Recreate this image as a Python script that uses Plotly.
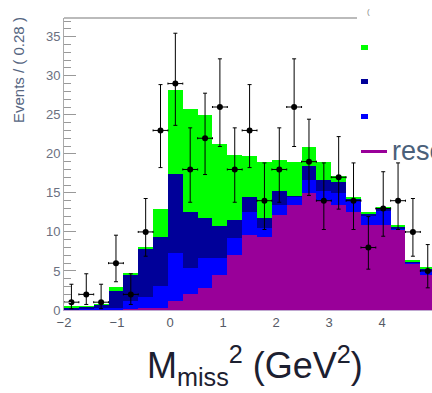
import plotly.graph_objects as go

# ---- data ----
bin_centers = [-1.86, -1.58, -1.30, -1.02, -0.74, -0.46, -0.18, 0.10, 0.38, 0.66,
               0.94, 1.22, 1.50, 1.78, 2.06, 2.34, 2.62, 2.90, 3.18, 3.46,
               3.74, 4.02, 4.30, 4.58, 4.86]
bin_width = 0.28

# stacked components (bottom -> top)
resolution = [0.05, 0.05, 0.08, 0.10, 0.15, 0.20, 0.30, 1.2, 2.0, 2.8,
              4.5, 7.05, 9.6, 9.4, 12.2, 13.4, 15.0, 13.9, 13.5, 12.6,
              10.9, 10.9, 10.2, 6.0, 4.5]
comp_blue = [0.05, 0.07, 0.12, 0.20, 0.95, 1.5, 2.8, 6.1, 3.4, 3.8,
             2.1, 2.15, 3.0, 1.1, 1.3, 1.1, 1.7, 1.3, 1.5, 1.3,
             1.1, 1.8, 0.3, 0.1, 0.6]
comp_darkblue = [0.25, 0.28, 0.5, 2.1, 3.4, 6.2, 6.2, 10.1, 7.2, 5.2,
                 4.1, 2.3, 1.9, 1.3, 1.7, 0.1, 1.7, 1.5, 1.4, 0.4,
                 0.3, 0.2, 0.2, 0.1, 0.2]
comp_green = [0.05, 0.05, 0.05, 0.6, 0.2, 0.2, 3.7, 10.8, 13.1, 13.2,
              10.5, 8.4, 5.2, 7.2, 4.0, 4.4, 2.5, 2.3, 0.8, 0.2,
              0.3, 0.3, 0.2, 0.2, 0.2]

events = [1, 2, 1, 6, 2, 10, 23, 29, 18, 22,
          26, 18, 23, 14, 18, 26, 19, 14, 17, 14,
          8, 13, 14, 10, 5]
err_up = [2.30, 2.64, 2.30, 3.58, 2.64, 4.28, 5.87, 6.45, 5.33, 5.77,
          6.17, 5.33, 5.87, 4.84, 5.33, 6.17, 5.44, 4.84, 5.21, 4.84,
          3.96, 4.71, 4.84, 4.28, 3.38]
err_down = [0.83, 1.29, 0.83, 2.38, 1.29, 3.11, 4.76, 5.35, 4.20, 4.65,
            5.06, 4.20, 4.76, 3.69, 4.20, 5.06, 4.32, 3.69, 4.08, 3.69,
            2.77, 3.55, 3.69, 3.11, 2.16]

x_ticks = [-2, -1, 0, 1, 2, 3, 4]
y_ticks = [0, 5, 10, 15, 20, 25, 30, 35]

COL_PURPLE = "#990099"
COL_BLUE = "#0000ff"
COL_DKBLUE = "#000099"
COL_GREEN = "#00ff00"

fig = go.Figure()
for name, vals, col in [("resolution", resolution, COL_PURPLE),
                        ("blue", comp_blue, COL_BLUE),
                        ("darkblue", comp_darkblue, COL_DKBLUE),
                        ("green", comp_green, COL_GREEN)]:
    fig.add_trace(go.Bar(x=bin_centers, y=vals, width=bin_width, name=name,
                         marker=dict(color=col, line=dict(width=0)),
                         showlegend=False))

fig.add_trace(go.Scatter(
    x=bin_centers, y=events, mode="markers",
    marker=dict(color="black", size=6, symbol="circle"),
    error_y=dict(type="data", symmetric=False, array=err_up, arrayminus=err_down,
                 color="black", thickness=1, width=2),
    error_x=dict(type="constant", value=bin_width / 2, color="black",
                 thickness=1, width=1),
    showlegend=False, cliponaxis=False))

W, H = 432, 393
L, R, T, B = 64, 0, 18, 83
pw, ph = W - L - R, H - T - B


def px(xp):
    return (xp - L) / pw


def py(yp):
    return (H - B - yp) / ph


fig.update_layout(
    width=W, height=H,
    margin=dict(l=L, r=R, t=T, b=B, pad=0),
    barmode="stack", bargap=0,
    plot_bgcolor="white", paper_bgcolor="white",
    font=dict(family="Liberation Sans, Arial, sans-serif"),
    xaxis=dict(range=[-2, 4.94], tickvals=x_ticks, ticks="", showgrid=False,
               zeroline=False, showline=True, linecolor="#c0a8d0", linewidth=1,
               tickfont=dict(size=13, color="#555a66")),
    yaxis=dict(range=[0, 37.4], tickvals=y_ticks, ticks="inside", ticklen=12,
               tickcolor="#999999", tickwidth=1, showgrid=False, zeroline=False,
               showline=True, linecolor="#aaaaaa", linewidth=1,
               tickfont=dict(size=13, color="#6b7080"),
               minor=dict(ticks="inside", ticklen=7, dtick=1, tickcolor="#999999",
                          tickwidth=1, showgrid=False)),
)

shapes = [
    # top frame line
    dict(type="line", xref="paper", yref="paper", x0=0, x1=1, y0=1, y1=1,
         line=dict(color="#bbbbbb", width=2), layer="above"),
    # legend box (white, covering the corner)
    dict(type="rect", xref="paper", yref="paper", x0=px(357), x1=px(440),
         y0=py(158), y1=py(-5), fillcolor="white", line=dict(width=0), layer="above"),
    # legend swatches
    dict(type="rect", xref="paper", yref="paper", x0=px(361), x1=px(368),
         y0=py(50), y1=py(45), fillcolor=COL_GREEN, line=dict(width=0), layer="above"),
    dict(type="rect", xref="paper", yref="paper", x0=px(361), x1=px(368),
         y0=py(84), y1=py(79), fillcolor=COL_DKBLUE, line=dict(width=0), layer="above"),
    dict(type="rect", xref="paper", yref="paper", x0=px(361), x1=px(368),
         y0=py(119), y1=py(114), fillcolor=COL_BLUE, line=dict(width=0), layer="above"),
    dict(type="line", xref="paper", yref="paper", x0=px(361), x1=px(387),
         y0=py(151.5), y1=py(151.5), line=dict(color=COL_PURPLE, width=3), layer="above"),
]
fig.update_layout(shapes=shapes)

annotations = [
    dict(text="Events / ( 0.28 )", xref="paper", yref="paper", x=px(18), y=py(15),
         xanchor="center", yanchor="top", textangle=-90, showarrow=False,
         font=dict(size=15, color="#55657f")),
    dict(text="M<sub>miss</sub><sup>2</sup> (GeV<sup>2</sup>)", xref="paper", yref="paper",
         x=px(255), y=py(366), xanchor="center", yanchor="middle", showarrow=False,
         font=dict(size=36, color="#1c2030")),
    dict(text="resolution", xref="paper", yref="paper", x=px(390), y=py(151),
         xanchor="left", yanchor="middle", showarrow=False,
         font=dict(size=27, color="#4a607a")),
    dict(text="(", xref="paper", yref="paper", x=px(368), y=py(12),
         xanchor="center", yanchor="middle", showarrow=False,
         font=dict(size=8, color="#888888")),
]
fig.update_layout(annotations=annotations)

fig.write_html("out.html")
